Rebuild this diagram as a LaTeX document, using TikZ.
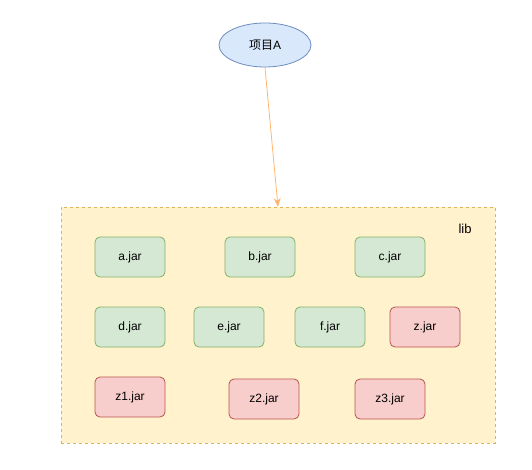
\documentclass[tikz,border=0pt]{standalone}
\usepackage{fontspec}
\setmainfont{Liberation Sans}
\newfontfamily\cjk{Noto Sans CJK SC}
\usetikzlibrary{shapes.geometric,arrows.meta}
\definecolor{gfill}{HTML}{D5E8D4}
\definecolor{gline}{HTML}{82B366}
\definecolor{rfill}{HTML}{F8CECC}
\definecolor{rline}{HTML}{B85450}
\definecolor{yfill}{HTML}{FFF2CC}
\definecolor{yline}{HTML}{D6B656}
\definecolor{bfill}{HTML}{DAE8FC}
\definecolor{bline}{HTML}{6C8EBF}
\definecolor{aline}{HTML}{FFB570}
\begin{document}
\begin{tikzpicture}[x=1pt,y=-1pt,
  jar/.style={draw, rounded corners=5pt, minimum width=70pt, minimum height=40pt, inner sep=0pt, line width=0.8pt, font=\fontsize{12}{14}\selectfont},
  gjar/.style={jar, fill=gfill, draw=gline},
  rjar/.style={jar, fill=rfill, draw=rline},
  proj/.style={ellipse, draw=bline, fill=bfill, minimum width=92pt, minimum height=44pt, inner sep=0pt, line width=0.8pt, font=\fontsize{12}{14}\selectfont},
  libbox/.style={draw=yline, fill=yfill, dash pattern=on 3pt off 3pt, line width=0.8pt},
  conn/.style={draw=aline, line width=0.8pt, -{Stealth[length=9pt,width=7pt]}}]
\useasboundingbox (0,0) rectangle (532,470);
\node[libbox, minimum width=434pt, minimum height=236pt, inner sep=0pt] (lib) at (278,325) {};
\node[font=\fontsize{13}{15}\selectfont] (libl) at (465,229) {lib};
\node[proj] (pa) at (265,45) {{\cjk 项目}A};
\node[gjar] (a) at (130,257) {a.jar};
\node[gjar] (b) at (260,257) {b.jar};
\node[gjar] (c) at (390,257) {c.jar};
\node[gjar] (d) at (130,327) {d.jar};
\node[gjar] (e) at (229,327) {e.jar};
\node[gjar] (f) at (330,327) {f.jar};
\node[rjar] (z) at (425,327) {z.jar};
\node[rjar] (z1) at (130,397) {z1.jar};
\node[rjar] (z2) at (264,399) {z2.jar};
\node[rjar] (z3) at (390,399) {z3.jar};
\coordinate (tip) at (278,207);
\draw[conn] (pa.south) -- (tip);
\end{tikzpicture}
\end{document}
